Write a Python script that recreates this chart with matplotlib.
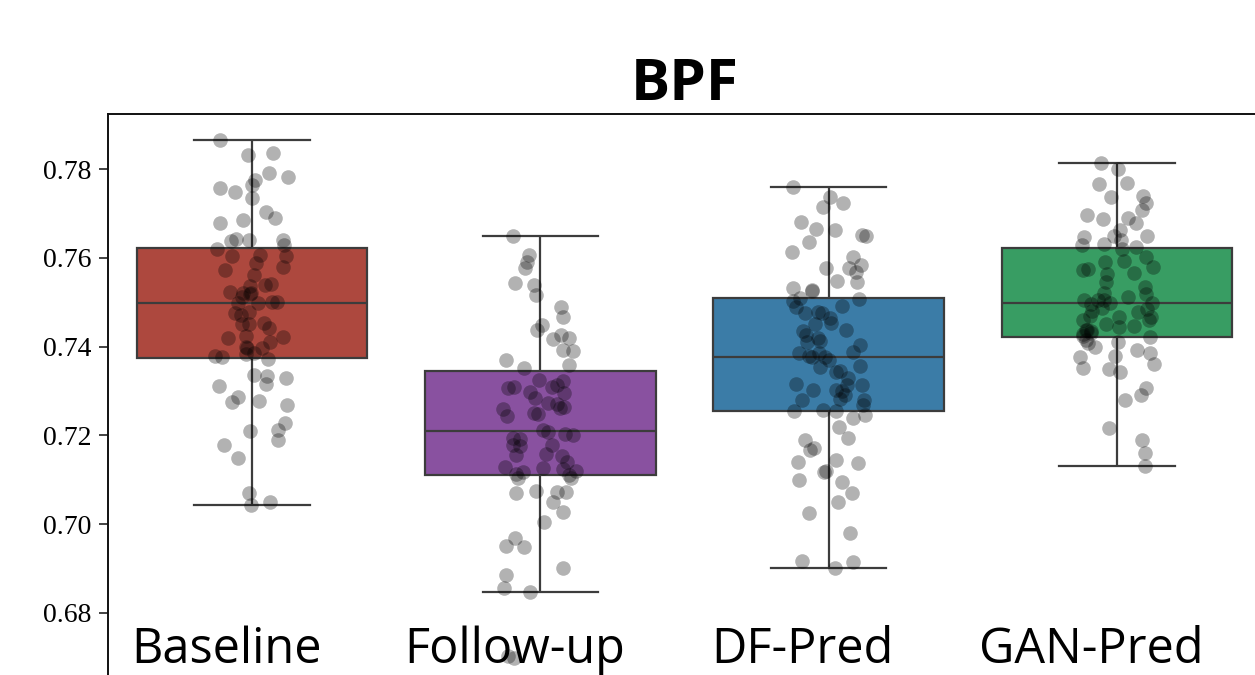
import matplotlib
matplotlib.use("Agg")
import matplotlib.pyplot as plt
import numpy as np
import pandas as pd
import seaborn as sns

# values
groups = ["Baseline", "Follow-up", "DF-Pred", "GAN-Pred"]
colors = ["#c0392b", "#8e44ad", "#2980b9", "#27ae60"]

baseline = [0.7865, 0.7836, 0.7832, 0.7791, 0.7782, 0.7775, 0.7764, 0.7757, 0.7748, 0.7735,
            0.7703, 0.7690, 0.7685, 0.7678, 0.7642, 0.7640, 0.7638, 0.7641,
            0.7628, 0.7620, 0.7606, 0.7604, 0.7603, 0.7588, 0.7580, 0.7573, 0.7562, 0.7540,
            0.7538, 0.7536, 0.7523, 0.7521, 0.7520, 0.7518, 0.7512, 0.7501, 0.7500, 0.7499,
            0.7498, 0.7476, 0.7479, 0.7471, 0.7454, 0.7452, 0.7450, 0.7442, 0.7423, 0.7421,
            0.7420, 0.7410, 0.7398, 0.7396, 0.7397, 0.7386, 0.7384, 0.7378, 0.7376, 0.7372,
            0.7336, 0.7334, 0.7329, 0.7315, 0.7312, 0.7287, 0.7277, 0.7275, 0.7269, 0.7228,
            0.7213, 0.7210, 0.7190, 0.7178, 0.7149, 0.7070, 0.7050, 0.7043]

followup = [0.7648, 0.7606, 0.7591, 0.7577, 0.7543, 0.7539, 0.7516, 0.7489, 0.7467, 0.7449,
            0.7437, 0.7426, 0.7419, 0.7418, 0.7392, 0.7390, 0.7370, 0.7359, 0.7352,
            0.7325, 0.7323, 0.7314, 0.7310, 0.7309, 0.7307, 0.7298, 0.7296, 0.7284, 0.7273,
            0.7271, 0.7263, 0.7262, 0.7260, 0.7251, 0.7249, 0.7243, 0.7212,
            0.7208,
            0.7203, 0.7200, 0.7195, 0.7193, 0.7179, 0.7178, 0.7176, 0.7157, 0.7156, 0.7154,
            0.7140, 0.7128, 0.7127, 0.7125, 0.7119, 0.7117, 0.7113, 0.7111,
            0.7104, 0.7103, 0.7074, 0.7073, 0.7072, 0.7071, 0.7050, 0.7027, 0.7005, 0.6969,
            0.6950, 0.6948, 0.6901, 0.6886, 0.6856, 0.6847, 0.6702, 0.6698]

dfpred = [0.7760, 0.7738, 0.7723, 0.7715, 0.7681, 0.7664, 0.7662, 0.7652, 0.7650, 0.7636,
          0.7612, 0.7602, 0.7584, 0.7578, 0.7576, 0.7569, 0.7547, 0.7545, 0.7532, 0.7528, 0.7526,
          0.7510, 0.7508, 0.7502, 0.7491, 0.7489, 0.7477, 0.7476, 0.7475, 0.7464, 0.7454,
          0.7452, 0.7438, 0.7436, 0.7426, 0.7419, 0.7412, 0.7410, 0.7404, 0.7387, 0.7386, 0.7385,
          0.7378, 0.7377, 0.7376,
          0.7370, 0.7356, 0.7354, 0.7344, 0.7342, 0.7329, 0.7315, 0.7314, 0.7313, 0.7303,
          0.7302, 0.7301, 0.7291, 0.7281, 0.7280, 0.7279, 0.7269, 0.7258, 0.7256, 0.7255,
          0.7246, 0.7239, 0.7220, 0.7194, 0.7190, 0.7172, 0.7167, 0.7145, 0.7139, 0.7137,
          0.7119, 0.7117, 0.7100, 0.7096, 0.7070, 0.7051, 0.7025, 0.6980, 0.6917, 0.6915, 0.6901]

ganpred = [0.7814, 0.7801, 0.7769, 0.7767, 0.7739, 0.7737, 0.7723, 0.7708, 0.7696, 0.7690,
           0.7688, 0.7678, 0.7663, 0.7649, 0.7648, 0.7647, 0.7640, 0.7630, 0.7628,
           0.7624, 0.7620, 0.7602, 0.7592, 0.7590, 0.7580, 0.7574, 0.7572, 0.7566, 0.7564,
           0.7546, 0.7535, 0.7521, 0.7519, 0.7512, 0.7506, 0.7505, 0.7504,
           0.7499, 0.7498, 0.7497,
           0.7487, 0.7485, 0.7480, 0.7478, 0.7468, 0.7467, 0.7466, 0.7461, 0.7459, 0.7452,
           0.7446, 0.7444, 0.7438, 0.7437, 0.7436, 0.7431, 0.7429, 0.7423, 0.7421,
           0.7415, 0.7411, 0.7408, 0.7400, 0.7392, 0.7385, 0.7378, 0.7376, 0.7360, 0.7352,
           0.7350, 0.7343, 0.7306, 0.7291, 0.7280, 0.7216, 0.7190, 0.7160, 0.7132]

yticks = [0.68, 0.70, 0.72, 0.74, 0.76, 0.78]

series = [baseline, followup, dfpred, ganpred]
df = pd.DataFrame({
    "group": np.repeat(groups, [len(s) for s in series]),
    "value": np.concatenate(series),
})

np.random.seed(7)  # fixed jitter

fig = plt.figure(figsize=(12.55, 6.75), dpi=100)
# axes runs a little past the right and bottom edges, as in the cropped original
ax = fig.add_axes([108 / 1255, -8 / 675, 1153 / 1255, 569 / 675])

sns.boxplot(data=df, x="group", y="value", hue="group", order=groups, hue_order=groups,
            palette=colors, legend=False, showfliers=False, width=0.8,
            linewidth=1.6, linecolor="#3c3c3c", ax=ax)
sns.stripplot(data=df, x="group", y="value", order=groups, color="black",
              alpha=0.3, size=10.5, jitter=0.13, linewidth=0, ax=ax)

ax.set_xlim(-0.5, 3.5)
ax.set_ylim(0.66423, 0.79239)
ax.set_xlabel("")
ax.set_ylabel("")
ax.set_xticks([])
ax.set_yticks(yticks)
ax.set_yticklabels(["%.2f" % t for t in yticks], family="Liberation Serif", fontsize=20)
ax.tick_params(axis="y", length=6.5, width=1.2, pad=5.5, color="#222222")
for sp in ax.spines.values():
    sp.set_linewidth(1.4)
    sp.set_color("#111111")

for i, g in enumerate(groups):
    ax.text(i - 0.09, 0.035, g, transform=ax.get_xaxis_transform(),
            ha="center", va="baseline", fontsize=35, family="Open Sans", color="black")

ax.set_title("BPF", fontsize=42, fontweight="bold", family="Open Sans", pad=10)

fig.savefig("out.png", dpi=100)
